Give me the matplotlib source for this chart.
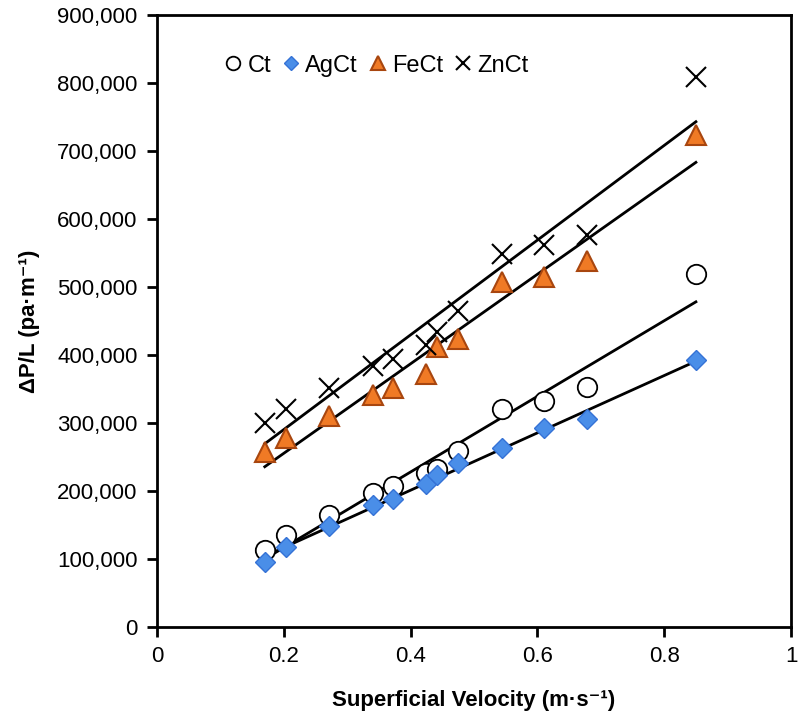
import numpy as np
import matplotlib
matplotlib.use("Agg")
import matplotlib.pyplot as plt
from matplotlib.ticker import FuncFormatter

# superficial velocity (m/s), same for every sample
velocity = [0.170, 0.204, 0.271, 0.340, 0.373, 0.424, 0.442, 0.475, 0.544, 0.610, 0.678, 0.850]

# pressure drop per length (Pa/m)
ct = [113000, 135000, 165000, 197000, 207000, 227000, 232000, 259000, 320000, 332000, 353000, 519000]
agct = [96000, 118000, 149000, 180000, 188000, 210000, 224000, 241000, 263000, 292000, 306000, 392000]
fect = [257000, 278000, 310000, 341000, 351000, 372000, 412000, 423000, 507000, 515000, 538000, 724000]
znct = [300000, 321000, 352000, 384000, 394000, 415000, 434000, 465000, 548000, 562000, 577000, 809000]

labels = ["Ct", "AgCt", "FeCt", "ZnCt"]

FONT = ["Liberation Sans", "DejaVu Sans"]
plt.rcParams["font.family"] = FONT

fig = plt.figure(figsize=(7.99, 7.21), dpi=100)
ax = fig.add_axes([0.1965, 0.1304, 0.7935, 0.8487])

x = np.array(velocity)
styles = [
    dict(marker="o", ms=14, mfc="white", mec="black", mew=1.3),
    dict(marker="D", ms=10.5, mfc="#4a8ee8", mec="#3572d6", mew=1.0),
    dict(marker="^", ms=15, mfc="#f07a25", mec="#a8460f", mew=1.5),
    dict(marker="x", ms=15, mfc="none", mec="black", mew=1.5),
]
for y, lab, st in zip([ct, agct, fect, znct], labels, styles):
    y = np.array(y)
    # linear trend line over the measured range
    k, b = np.polyfit(x, y, 1)
    xs = np.array([x.min(), x.max()])
    ax.plot(xs, k * xs + b, color="black", lw=2, zorder=3)
    ax.plot(x, y, ls="none", label=lab, zorder=4, **st)

ax.set_xlim(0, 1)
ax.set_ylim(0, 900000)
ax.set_xticks([0, 0.2, 0.4, 0.6, 0.8, 1])
ax.set_xticklabels(["0", "0.2", "0.4", "0.6", "0.8", "1"], fontsize=16)
ax.set_yticks(np.arange(0, 900001, 100000))
ax.yaxis.set_major_formatter(FuncFormatter(lambda v, p: f"{int(v):,}"))
for t in ax.get_yticklabels():
    t.set_fontsize(16)

for s in ax.spines.values():
    s.set_linewidth(2)
ax.tick_params(direction="out", length=7, width=2, pad=7)

ax.set_xlabel("Superficial Velocity (m·s⁻¹)", fontsize=16,
              fontweight="bold", labelpad=16)
ax.set_ylabel("ΔP/L (pa·m⁻¹)", fontsize=16,
              fontweight="bold", labelpad=12)

leg = ax.legend(loc="upper left", bbox_to_anchor=(0.07, 0.97), ncol=4, frameon=False,
                handlelength=0.9, handletextpad=0.15, columnspacing=0.4, markerscale=0.7,
                prop=dict(size=17))

fig.savefig("out.png", dpi=100)
